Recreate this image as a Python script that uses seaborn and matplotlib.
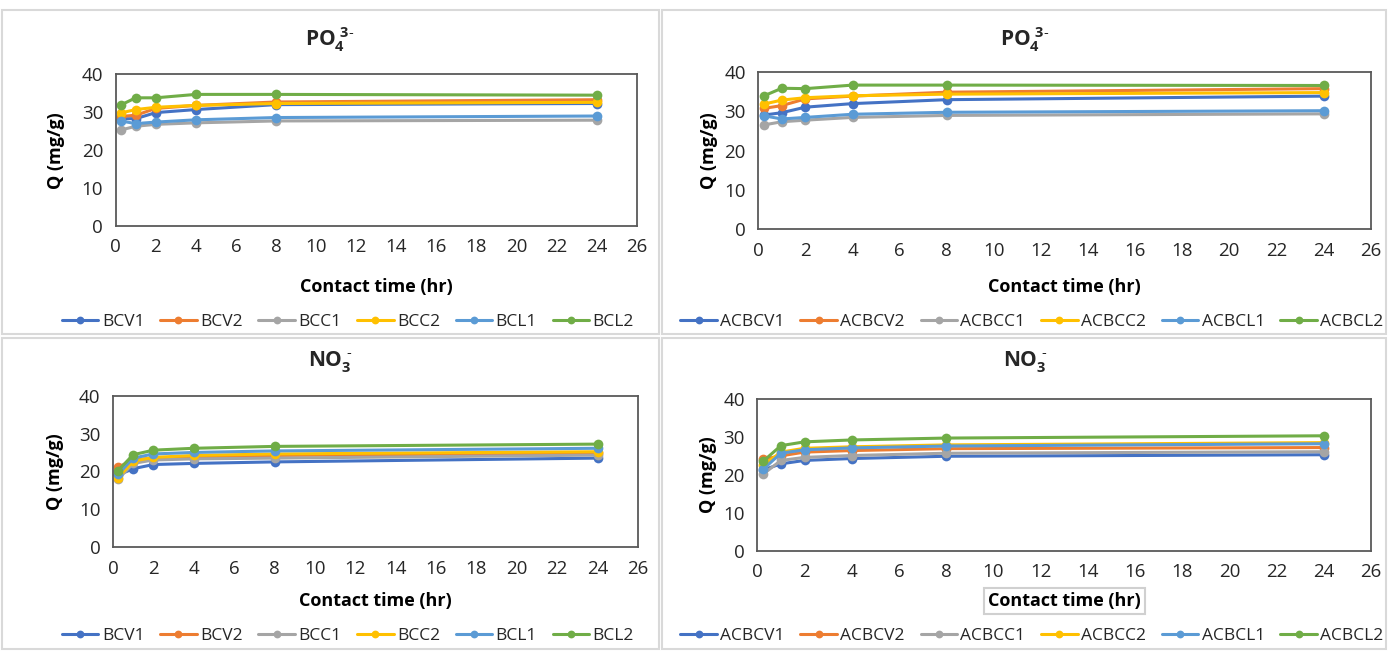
import matplotlib
matplotlib.use("Agg")
import matplotlib.pyplot as plt
import seaborn as sns
from matplotlib.patches import Rectangle

# contact time (hr)
time_hr = [0.25, 1, 2, 4, 8, 24]

# PO4 3- on biochars
bcv1_po4 = [28.3, 28.3, 29.9, 30.7, 32.0, 32.3]
bcv2_po4 = [28.9, 29.2, 31.0, 31.8, 32.7, 33.3]
bcc1_po4 = [25.3, 26.3, 26.8, 27.2, 27.7, 27.9]
bcc2_po4 = [29.8, 30.7, 31.3, 31.8, 32.3, 32.6]
bcl1_po4 = [27.7, 27.0, 27.4, 28.0, 28.6, 29.0]
bcl2_po4 = [31.9, 33.8, 33.8, 34.7, 34.7, 34.5]

# PO4 3- on activated biochars
acbcv1_po4 = [29.0, 29.6, 31.0, 31.9, 32.9, 33.8]
acbcv2_po4 = [30.7, 31.4, 33.1, 33.8, 34.8, 35.7]
acbcc1_po4 = [26.5, 27.3, 27.7, 28.4, 28.9, 29.3]
acbcc2_po4 = [31.8, 32.8, 33.4, 33.9, 34.3, 34.7]
acbcl1_po4 = [28.8, 28.0, 28.4, 29.2, 29.7, 30.1]
acbcl2_po4 = [33.9, 35.8, 35.7, 36.6, 36.6, 36.5]

# NO3- on biochars
bcv1_no3 = [19.0, 20.7, 21.8, 22.1, 22.5, 23.5]
bcv2_no3 = [21.1, 23.0, 23.5, 23.8, 24.2, 24.8]
bcc1_no3 = [17.9, 22.1, 23.0, 23.3, 23.5, 24.3]
bcc2_no3 = [18.3, 22.7, 23.7, 24.2, 24.6, 25.2]
bcl1_no3 = [19.2, 23.5, 24.6, 25.0, 25.4, 26.1]
bcl2_no3 = [20.2, 24.4, 25.6, 26.1, 26.6, 27.2]

# NO3- on activated biochars
acbcv1_no3 = [21.3, 22.9, 23.8, 24.3, 24.9, 25.3]
acbcv2_no3 = [24.1, 25.0, 26.0, 26.4, 26.9, 27.2]
acbcc1_no3 = [20.2, 23.8, 24.6, 25.1, 25.7, 26.1]
acbcc2_no3 = [22.5, 26.0, 27.0, 27.4, 27.9, 28.5]
acbcl1_no3 = [21.5, 25.7, 26.6, 27.1, 27.6, 28.2]
acbcl2_no3 = [23.6, 27.7, 28.7, 29.2, 29.7, 30.3]

bc_names = ["BCV1", "BCV2", "BCC1", "BCC2", "BCL1", "BCL2"]
acbc_names = ["ACBCV1", "ACBCV2", "ACBCC1", "ACBCC2", "ACBCL1", "ACBCL2"]
colors = ["#4472C4", "#ED7D31", "#A5A5A5", "#FFC000", "#5B9BD5", "#70AD47"]

sns.set_style("white")
plt.rcParams['font.family'] = ['Open Sans', 'DejaVu Sans']
plt.rcParams['mathtext.fontset'] = 'custom'
plt.rcParams['mathtext.rm'] = 'Open Sans'
plt.rcParams['mathtext.bf'] = 'Open Sans:bold'

W, H = 1389, 652
fig = plt.figure(figsize=(W / 100, H / 100), dpi=100)

# panel frames (pixels)
for x0, y0, x1, y1 in [(2, 10, 659, 334), (662, 10, 1386, 334),
                       (2, 338, 659, 649), (662, 338, 1386, 649)]:
    fig.patches.append(Rectangle((x0 / W, 1 - y1 / H), (x1 - x0) / W, (y1 - y0) / H,
                                 transform=fig.transFigure, fill=False,
                                 edgecolor="#d9d9d9", linewidth=1.5))

panels = [
    # plot area px (left, top, right, bottom), data, names, title, title x, title y,
    # legend x, legend y, ylabel x, boxed xlabel
    ((115.7, 74.3, 636.7, 226.0),
     [bcv1_po4, bcv2_po4, bcc1_po4, bcc2_po4, bcl1_po4, bcl2_po4], bc_names,
     r'$\mathbf{PO_4^{\ 3\text{-}}}$', 330, 40, 348, 322, -0.115, False),
    ((758.3, 71.7, 1370.6, 229.3),
     [acbcv1_po4, acbcv2_po4, acbcc1_po4, acbcc2_po4, acbcl1_po4, acbcl2_po4], acbc_names,
     r'$\mathbf{PO_4^{\ 3\text{-}}}$', 1025, 40, 1032, 322, -0.08, False),
    ((113.0, 395.7, 638.0, 547.0),
     [bcv1_no3, bcv2_no3, bcc1_no3, bcc2_no3, bcl1_no3, bcl2_no3], bc_names,
     r'$\mathbf{NO_3^{\ \text{-}}}$', 330, 362, 348, 636, -0.11, False),
    ((757.3, 399.0, 1371.0, 550.7),
     [acbcv1_no3, acbcv2_no3, acbcc1_no3, acbcc2_no3, acbcl1_no3, acbcl2_no3], acbc_names,
     r'$\mathbf{NO_3^{\ \text{-}}}$', 1025, 362, 1032, 636, -0.08, True),
]

for (l, t, r, b), series, names, title, tx, ty, lx, ly, ylab_x, boxed in panels:
    ax = fig.add_axes([l / W, 1 - b / H, (r - l) / W, (b - t) / H])
    for vals, name, col in zip(series, names, colors):
        sns.lineplot(x=time_hr, y=vals, ax=ax, color=col, marker='o', markersize=7,
                     markeredgewidth=0, linewidth=2.2, label=name)
    ax.set_xlim(0, 26)
    ax.set_ylim(0, 40)
    ax.set_xticks(range(0, 27, 2))
    ax.set_yticks(range(0, 41, 10))
    ax.tick_params(length=0, labelsize=13.5, colors="#262626", pad=9)
    for sp in ax.spines.values():
        sp.set_color("#595959")
        sp.set_linewidth(1.3)
    ax.set_xlabel('Contact time (hr)', fontsize=13, fontweight='bold', color="#000000")
    ax.set_ylabel('Q (mg/g)', fontsize=13, fontweight='bold', color="#000000")
    xlab_y = (b - (ly - 35)) / (b - t)
    ax.xaxis.set_label_coords(0.5, xlab_y)
    ax.xaxis.label.set_va('center')
    ax.yaxis.set_label_coords(ylab_x, 0.5)
    ax.yaxis.label.set_va('center')
    if boxed:
        ax.xaxis.label.set_bbox(dict(facecolor='white', edgecolor='#d0d0d0',
                                     linewidth=1.5, pad=3))
    fig.text(tx / W, 1 - ty / H, title, ha='center', va='center', fontsize=15)
    ax.legend(loc='center', bbox_to_anchor=(lx / W, 1 - ly / H),
              bbox_transform=fig.transFigure, ncol=6, frameon=False, fontsize=12.5,
              handlelength=2.1, handletextpad=0.2, columnspacing=0.9, markerscale=0.8,
              borderpad=0.2, borderaxespad=0)

fig.savefig("out.png", dpi=100)
plt.close(fig)
